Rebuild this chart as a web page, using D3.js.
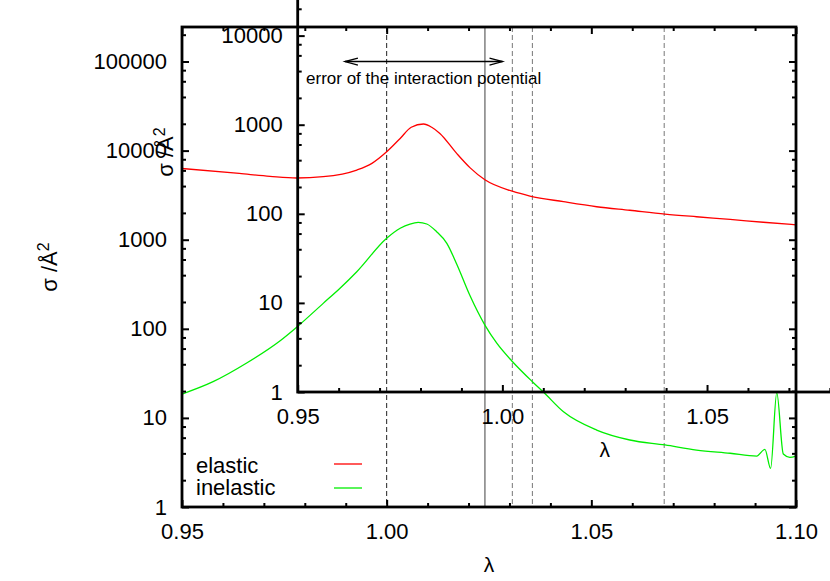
<!DOCTYPE html>
<html>
<head>
<meta charset="utf-8">
<script src="https://cdn.jsdelivr.net/npm/d3@7"></script>
<style>
  body { margin: 0; background: #fff; }
  svg { display: block; }
</style>
</head>
<body>
<div id="chart"></div>
<script>
// elastic cross section
const lambdaElastic = [0.950, 0.964, 0.9715, 0.978, 0.9845, 0.9927, 0.9964, 1.000, 1.0033, 1.006, 1.009, 1.011, 1.013, 1.0171, 1.0204, 1.024, 1.0307, 1.035, 1.0432, 1.0513, 1.0594, 1.068, 1.0757, 1.0839, 1.092, 1.100];
const sigmaElastic  = [6300, 5540, 5150, 4930, 5100, 6050, 7200, 9700, 13700, 18300, 19900, 18300, 15600, 9300, 6400, 4700, 3500, 3090, 2670, 2345, 2140, 1940, 1810, 1690, 1570, 1470];

// inelastic cross section
const lambdaInelastic = [0.950, 0.9576, 0.9658, 0.9739, 0.9783, 0.9845, 0.9886, 0.9927, 1.000, 1.0033, 1.0057, 1.0077, 1.0098, 1.0122, 1.0147, 1.0171, 1.0204, 1.024, 1.0269, 1.0307, 1.0356, 1.0383, 1.0432, 1.0513, 1.0594, 1.068, 1.0757, 1.0839, 1.0904, 1.0924, 1.0938, 1.0953, 1.0969, 1.0985, 1.100];
const sigmaInelastic  = [18.5, 25.5, 41.3, 73, 107, 193, 285, 437, 1037, 1343, 1500, 1567, 1500, 1230, 911, 534, 233, 110, 69, 43, 25.5, 19.5, 11.7, 7.3, 5.65, 4.97, 4.36, 4.01, 3.73, 4.44, 2.72, 19.2, 3.93, 3.61, 3.73];

// vertical markers
const markersDark  = [1.000];
const markersLight = [1.0307, 1.0356, 1.0678];
const markersSolid = [1.024];

// arrow "error of the interaction potential"
const arrowLambda = [0.9898, 1.0283];
const arrowSigma = 100000;
const arrowLabelSigma = 55900;
const arrowLabel = "error of the interaction potential";

const seriesNames = ["elastic", "inelastic"];
const xTickLabels = [0.95, 1.00, 1.05, 1.10];
const yTickLabels = [1, 10, 100, 1000, 10000, 100000];
const xRange = [0.95, 1.10];
const yRange = [1, 244000];

const W = 830, H = 581;
const margin = { left: 182, top: 27 };
const width = 614, height = 480;
const insetShift = { x: 115.7, y: -115 };
const font = "'Liberation Sans', Arial, Helvetica, sans-serif";

const svg = d3.select("#chart")
  .append("svg")
  .attr("width", W)
  .attr("height", H)
  .style("background", "#fff");

const x = d3.scaleLinear().domain(xRange).range([0, width]);
const y = d3.scaleLog().domain(yRange).range([height, 0]);

const main = svg.append("g")
  .attr("transform", `translate(${margin.left},${margin.top})`);

// vertical marker lines
const markerGroups = [
  { values: markersDark, color: "#222", dash: "5,3", w: 1 },
  { values: markersLight, color: "#777", dash: "5,3", w: 1 },
  { values: markersSolid, color: "#888", dash: null, w: 1.6 }
];
markerGroups.forEach(m => {
  main.selectAll(null)
    .data(m.values)
    .join("line")
    .attr("x1", d => x(d))
    .attr("x2", d => x(d))
    .attr("y1", 0)
    .attr("y2", height)
    .attr("stroke", m.color)
    .attr("stroke-width", m.w)
    .attr("stroke-dasharray", m.dash);
});

// curves
const line = d3.line()
  .x(d => x(d[0]))
  .y(d => y(d[1]))
  .curve(d3.curveMonotoneX);

const series = [
  { pts: d3.zip(lambdaElastic, sigmaElastic), color: "#ff0000" },
  { pts: d3.zip(lambdaInelastic, sigmaInelastic), color: "#00ee00" }
];

main.selectAll(".curve")
  .data(series)
  .join("path")
  .attr("class", "curve")
  .attr("d", d => line(d.pts))
  .attr("fill", "none")
  .attr("stroke", d => d.color)
  .attr("stroke-width", 1.3);

// arrow with two open heads
const ay = y(arrowSigma);
const ax0 = x(arrowLambda[0]), ax1 = x(arrowLambda[1]);
main.append("line")
  .attr("x1", ax0).attr("x2", ax1)
  .attr("y1", ay).attr("y2", ay)
  .attr("stroke", "#000").attr("stroke-width", 1.3);
main.append("path")
  .attr("d", `M${ax0 + 13},${ay - 3.5}L${ax0},${ay}L${ax0 + 13},${ay + 3.5}` +
             `M${ax1 - 13},${ay - 3.5}L${ax1},${ay}L${ax1 - 13},${ay + 3.5}`)
  .attr("fill", "none")
  .attr("stroke", "#000")
  .attr("stroke-width", 1.3);
main.append("text")
  .attr("x", (ax0 + ax1) / 2)
  .attr("y", y(arrowLabelSigma))
  .attr("text-anchor", "middle")
  .attr("font-family", font)
  .attr("font-size", 17)
  .text(arrowLabel);

// legend
const legend = main.append("g").attr("transform", `translate(14, 446)`);
seriesNames.forEach((name, i) => {
  legend.append("text")
    .attr("x", 0)
    .attr("y", i * 22.4)
    .attr("font-family", font)
    .attr("font-size", 22)
    .text(name);
  legend.append("line")
    .attr("x1", 138).attr("x2", 166)
    .attr("y1", i * 24 - 9).attr("y2", i * 24 - 9)
    .attr("stroke", series[i].color)
    .attr("stroke-width", 1.3);
});

// minor tick positions
const minorY = [];
d3.range(0, 6).forEach(p => [2, 4, 6, 8].forEach(m => {
  const v = m * Math.pow(10, p);
  if (v < yRange[1]) minorY.push(v);
}));
const minorX = d3.range(95, 111).map(i => i / 100)
  .filter(v => !xTickLabels.some(t => Math.abs(t - v) < 1e-9));

function tickAxis(g, axis, tx, ty) {
  const a = g.append("g")
    .attr("transform", `translate(${tx},${ty})`)
    .call(axis);
  a.select(".domain").remove();
  a.selectAll("line").attr("stroke", "#000").attr("stroke-width", 2);
  a.selectAll("text")
    .attr("font-family", font)
    .attr("font-size", 22)
    .attr("fill", "#000");
  return a;
}

// gnuplot-style frame: border, mirrored ticks, labels, titles
function drawFrame(g) {
  g.append("rect")
    .attr("width", width)
    .attr("height", height)
    .attr("fill", "none")
    .attr("stroke", "#000")
    .attr("stroke-width", 2.8);

  tickAxis(g, d3.axisLeft(y).tickValues(yTickLabels).tickFormat(d3.format("d"))
    .tickSize(-7).tickSizeOuter(0).tickPadding(15), 0, 0);
  tickAxis(g, d3.axisLeft(y).tickValues(minorY).tickFormat("").tickSize(-4).tickSizeOuter(0), 0, 0);
  tickAxis(g, d3.axisRight(y).tickValues(yTickLabels).tickFormat("").tickSize(-7).tickSizeOuter(0), width, 0);
  tickAxis(g, d3.axisRight(y).tickValues(minorY).tickFormat("").tickSize(-4).tickSizeOuter(0), width, 0);

  tickAxis(g, d3.axisBottom(x).tickValues(xTickLabels).tickFormat(d3.format(".2f"))
    .tickSize(-7).tickSizeOuter(0).tickPadding(16), 0, height);
  tickAxis(g, d3.axisBottom(x).tickValues(minorX).tickFormat("").tickSize(-4).tickSizeOuter(0), 0, height);
  tickAxis(g, d3.axisTop(x).tickValues(xTickLabels).tickFormat("").tickSize(-7).tickSizeOuter(0), 0, 0);
  tickAxis(g, d3.axisTop(x).tickValues(minorX).tickFormat("").tickSize(-4).tickSizeOuter(0), 0, 0);

  g.append("text")
    .attr("x", width / 2)
    .attr("y", height + 65)
    .attr("text-anchor", "middle")
    .attr("font-family", font)
    .attr("font-size", 21)
    .text("λ");

  const yt = g.append("text")
    .attr("transform", `translate(-125, ${height / 2}) rotate(-90)`)
    .attr("text-anchor", "middle")
    .attr("font-family", font)
    .attr("font-size", 22);
  yt.append("tspan").text("σ /Å");
  yt.append("tspan").attr("dy", "-0.5em").attr("font-size", 16).text("2");
}

drawFrame(main);

const inset = svg.append("g")
  .attr("transform", `translate(${margin.left + insetShift.x},${margin.top + insetShift.y})`);
drawFrame(inset);
</script>
</body>
</html>
